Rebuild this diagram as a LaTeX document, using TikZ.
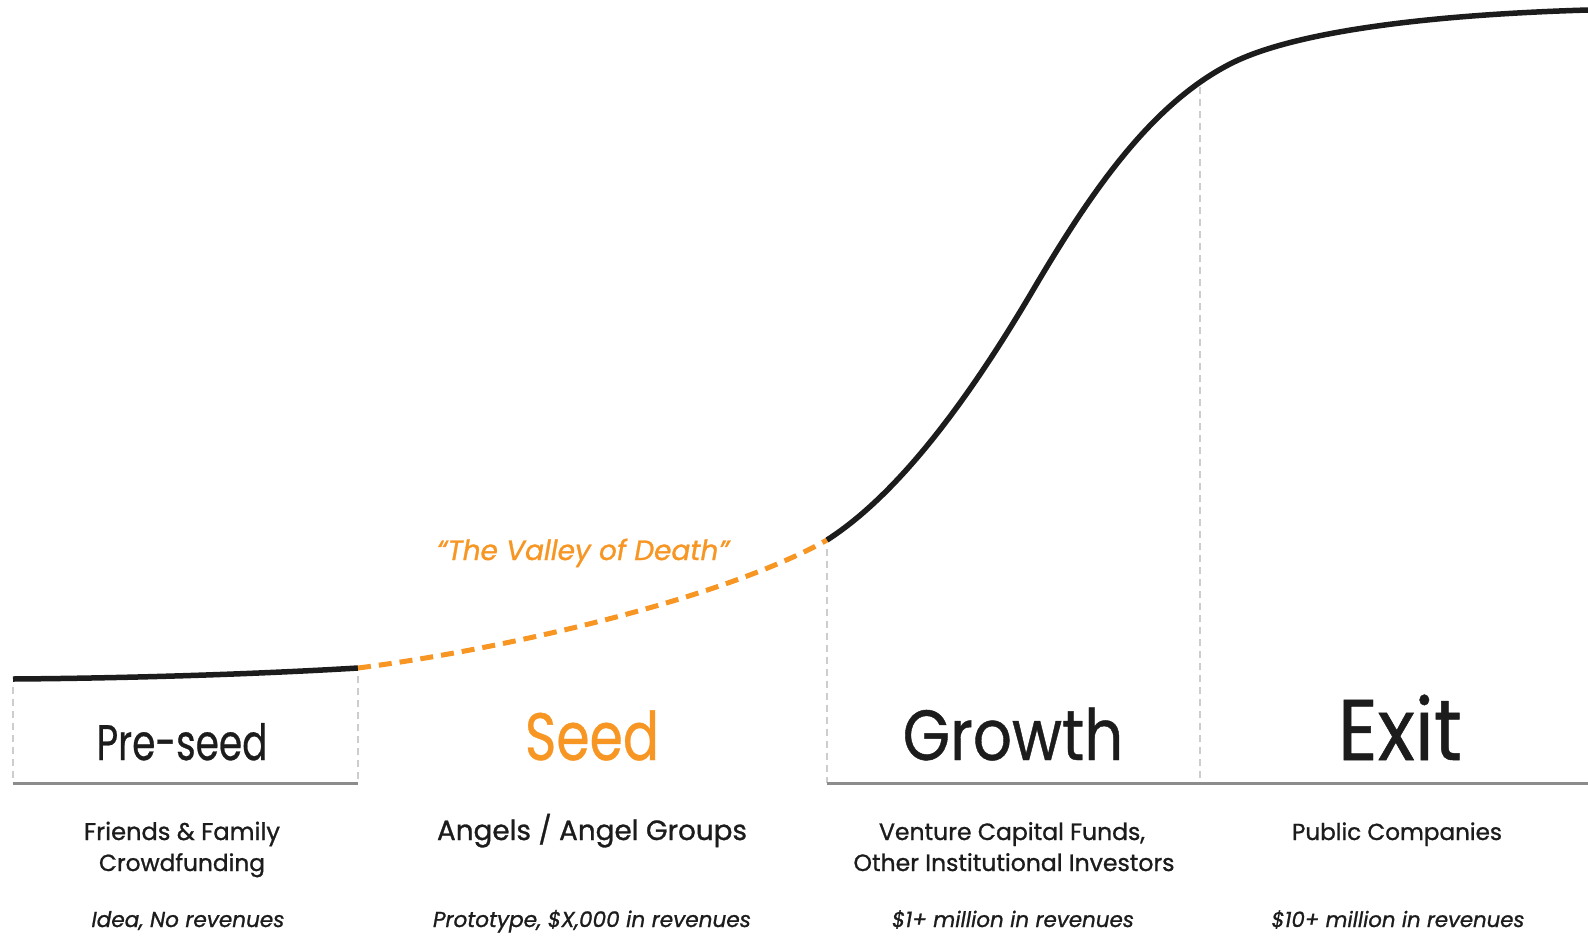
\documentclass[tikz,border=0pt]{standalone}
\usepackage{fontspec}
\setmainfont{Poppins}
\newfontfamily\popmed{Poppins}[FakeBold=1.0]
\newfontfamily\poptitle{Poppins}[FakeBold=0.6]
\usepackage{graphicx}
\definecolor{seedorange}{RGB}{247,150,35}
\definecolor{inkblack}{RGB}{28,28,28}
\definecolor{rulegray}{RGB}{140,140,140}
\definecolor{guidegray}{RGB}{205,205,205}
\newcommand\cond[2]{\scalebox{#1}[1]{#2}}
\newcommand\fitw[2]{\resizebox{#1pt}{!}{#2}}
\begin{document}
\begin{tikzpicture}[x=1pt,y=-1pt,
  curve/.style={line width=5.5pt, draw=inkblack},
  valley/.style={line width=5pt, draw=seedorange, dash pattern=on 13pt off 8pt},
  guide/.style={line width=1.5pt, draw=guidegray, dash pattern=on 7pt off 5pt},
  baserule/.style={line width=3pt, draw=rulegray},
  title/.style={anchor=base, inner sep=0pt, text=inkblack},
  info/.style={anchor=base, inner sep=0pt, text=inkblack, font=\popmed\fontsize{23}{28}\selectfont},
  note/.style={anchor=base, inner sep=0pt, text=inkblack, font=\popmed\fontsize{22}{26}\selectfont\itshape},
]
\useasboundingbox[fill=white] (0,0) rectangle (1588,935);
% curve key points
\coordinate (c0) at (13,679);
\coordinate (c1) at (358,668);
\coordinate (c2) at (827,540);
\coordinate (c3) at (1036,285);
\coordinate (c4) at (1230,64);
\coordinate (c5) at (1588,10);
% guide ends
\coordinate (g0t) at (13,687);   \coordinate (g0b) at (13,783);
\coordinate (g1t) at (358,676);  \coordinate (g1b) at (358,783);
\coordinate (g2t) at (827,549);  \coordinate (g2b) at (827,783);
\coordinate (g3t) at (1200,87);  \coordinate (g3b) at (1200,783);
\coordinate (r1) at (1588,783);
% guides
\draw[guide] (g0t) -- (g0b);
\draw[guide] (g1t) -- (g1b);
\draw[guide] (g2t) -- (g2b);
\draw[guide] (g3t) -- (g3b);
% base rules
\draw[baserule] (g0b) -- (g1b);
\draw[baserule] (g2b) -- (r1);
% curves
\draw[curve] (c0) .. controls (150,678) and (275,673) .. (c1);
\draw[valley] (c1) .. controls (500,650) and (720,600) .. (c2);
\draw[curve] (c2) .. controls (905,490) and (978,384) .. (c3)
  .. controls (1090,194) and (1150,105) .. (c4)
  .. controls (1290,33) and (1420,15) .. (c5);
% titles
\node[title, font=\poptitle\fontsize{50}{60}\selectfont] (preseed) at (182,760) {\cond{0.75}{Pre-seed}};
\node[title, text=seedorange, font=\poptitle\fontsize{67}{80}\selectfont] (seed) at (592,760) {\cond{0.8}{Seed}};
\node[title, font=\poptitle\fontsize{71}{85}\selectfont] (growth) at (1013,760) {\cond{0.86}{Growth}};
\node[title, font=\poptitle\fontsize{86}{100}\selectfont] (exit) at (1400,760) {\cond{0.9}{Exit}};
% valley label
\node[anchor=base, inner sep=0pt, text=seedorange, font=\popmed\fontsize{31}{36}\selectfont\itshape] (valleylbl) at (583,560) {\fitw{292}{“The Valley of Death”}};
% investors
\node[info] (inv1a) at (182,840) {\fitw{196}{Friends \& Family}};
\node[info] (inv1b) at (182,871) {\fitw{166}{Crowdfunding}};
\node[info] (inv2) at (592,840) {\fitw{310}{Angels / Angel Groups}};
\node[info] (inv3a) at (1012,840) {\fitw{266}{Venture Capital Funds,}};
\node[info] (inv3b) at (1014,871) {\fitw{321}{Other Institutional Investors}};
\node[info] (inv4) at (1397,840) {\fitw{210}{Public Companies}};
% revenue notes
\node[note] (rev1) at (188,927) {\fitw{193}{Idea, No revenues}};
\node[note] (rev2) at (592,927) {\fitw{318}{Prototype, \$X,000 in revenues}};
\node[note] (rev3) at (1013,927) {\fitw{242}{\$1+ million in revenues}};
\node[note] (rev4) at (1398,927) {\fitw{253}{\$10+ million in revenues}};
\end{tikzpicture}
\end{document}
